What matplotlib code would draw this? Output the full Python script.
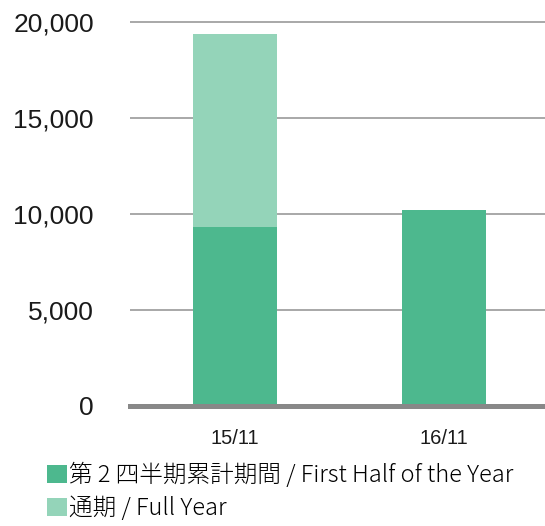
import matplotlib.pyplot as plt
from matplotlib.patches import Patch

# data
categories = ["15/11", "16/11"]
first_half = [9350, 10200]
full_year_extra = [19400 - 9350, 0]   # stacked on top of first half
legend_labels = ["第 2 四半期累計期間 / First Half of the Year", "通期 / Full Year"]
yticks = [0, 5000, 10000, 15000, 20000]

dark_green = "#4db88e"
light_green = "#94d4b9"

fig = plt.figure(figsize=(5.45, 5.26), dpi=100)
ax = fig.add_axes([130 / 545, 120.2 / 526, 415 / 545, 393.1 / 526])

x = list(range(len(categories)))
ax.bar(x, first_half, width=0.40, color=dark_green, zorder=2)
ax.bar(x, full_year_extra, width=0.40, bottom=first_half, color=light_green, zorder=2)

ax.set_xlim(-0.502, 1.483)
ax.set_ylim(0, 20500)
ax.set_yticks(yticks)
ax.set_yticklabels([f"{v:,}" for v in yticks], fontsize=19, family="Liberation Sans")
ax.set_xticks(x)
ax.set_xticklabels(categories, fontsize=14.5, family="Liberation Sans")
ax.tick_params(axis="y", length=0, pad=26, colors="#1a1a1a")
ax.tick_params(axis="x", length=0, pad=17, colors="#1a1a1a")

ax.yaxis.grid(True, color="#9a9a9a", linewidth=1.2, zorder=1)
ax.set_axisbelow(True)
ax.axhline(0, color="#888888", linewidth=3.6, zorder=3, clip_on=False)
for s in ax.spines.values():
    s.set_visible(False)

handles = [Patch(facecolor=dark_green), Patch(facecolor=light_green)]
fig.legend(handles, legend_labels, loc="upper left", bbox_to_anchor=(47 / 545, 1 - 463 / 526),
           frameon=False, handlelength=0.85, handleheight=0.8, handletextpad=0.1,
           labelspacing=0.35, borderpad=0, borderaxespad=0,
           prop={"family": ["Noto Sans CJK JP", "DejaVu Sans"], "size": 17, "weight": "light"})

fig.savefig("out.png", dpi=100)
